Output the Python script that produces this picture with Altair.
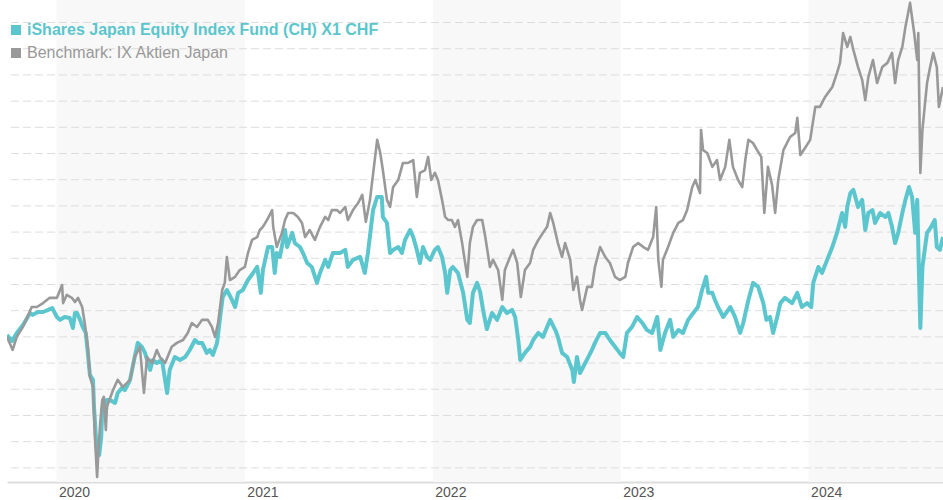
import altair as alt
import pandas as pd

# ---------------- data ----------------
fund_name = "iShares Japan Equity Index Fund (CH) X1 CHF"
bench_name = "Benchmark: IX Aktien Japan"

fund_dates = [
    "2019-09-27", "2019-10-07", "2019-10-16", "2019-10-28", "2019-11-11", "2019-11-16", "2019-11-26",
    "2019-12-06", "2019-12-16", "2019-12-24", "2020-01-02", "2020-01-08", "2020-01-17", "2020-01-27",
    "2020-02-02", "2020-02-06", "2020-02-10", "2020-02-16", "2020-02-21", "2020-02-27", "2020-03-02",
    "2020-03-06", "2020-03-12", "2020-03-14", "2020-03-18", "2020-03-20", "2020-03-24", "2020-03-28",
    "2020-03-30", "2020-04-02", "2020-04-06", "2020-04-08", "2020-04-14", "2020-04-24", "2020-04-29",
    "2020-05-09", "2020-05-13", "2020-05-23", "2020-06-01", "2020-06-07", "2020-06-15", "2020-06-21",
    "2020-07-01", "2020-07-06", "2020-07-14", "2020-07-24", "2020-08-03", "2020-08-08", "2020-08-18",
    "2020-08-28", "2020-09-07", "2020-09-16", "2020-09-26", "2020-10-02", "2020-10-10", "2020-10-19",
    "2020-10-25", "2020-10-31", "2020-11-08", "2020-11-14", "2020-11-19", "2020-11-27", "2020-12-07",
    "2020-12-13", "2020-12-19", "2020-12-28", "2021-01-07", "2021-01-17", "2021-01-25", "2021-02-01",
    "2021-02-05", "2021-02-15", "2021-02-23", "2021-02-28", "2021-03-04", "2021-03-10", "2021-03-20",
    "2021-03-24", "2021-04-03", "2021-04-08", "2021-04-18", "2021-04-24", "2021-05-02", "2021-05-11",
    "2021-05-21", "2021-05-27", "2021-06-06", "2021-06-12", "2021-06-21", "2021-07-05", "2021-07-15",
    "2021-07-20", "2021-07-30", "2021-08-13", "2021-08-22", "2021-08-28", "2021-09-07", "2021-09-15",
    "2021-09-24", "2021-09-26", "2021-10-04", "2021-10-10", "2021-10-16", "2021-10-26", "2021-11-02",
    "2021-11-08", "2021-11-18", "2021-11-24", "2021-12-01", "2021-12-07", "2021-12-13", "2021-12-21",
    "2021-12-27", "2022-01-05", "2022-01-11", "2022-01-19", "2022-01-25", "2022-01-29", "2022-02-04",
    "2022-02-09", "2022-02-19", "2022-03-01", "2022-03-09", "2022-03-14", "2022-03-20", "2022-03-28",
    "2022-04-03", "2022-04-09", "2022-04-16", "2022-04-26", "2022-05-06", "2022-05-16", "2022-05-25",
    "2022-06-04", "2022-06-10", "2022-06-16", "2022-06-20", "2022-06-29", "2022-07-09", "2022-07-15",
    "2022-07-25", "2022-08-03", "2022-08-11", "2022-08-17", "2022-08-27", "2022-09-01", "2022-09-09",
    "2022-09-19", "2022-09-29", "2022-10-02", "2022-10-08", "2022-10-14", "2022-10-20", "2022-10-30",
    "2022-11-06", "2022-11-12", "2022-11-22", "2022-12-02", "2022-12-11", "2022-12-21", "2022-12-30",
    "2023-01-06", "2023-01-13", "2023-01-23", "2023-02-02", "2023-02-12", "2023-02-21", "2023-03-03",
    "2023-03-13", "2023-03-19", "2023-03-28", "2023-04-07", "2023-04-13", "2023-04-23", "2023-05-02",
    "2023-05-12", "2023-05-22", "2023-05-31", "2023-06-08", "2023-06-16", "2023-06-20", "2023-06-28",
    "2023-07-03", "2023-07-09", "2023-07-19", "2023-08-02", "2023-08-11", "2023-08-21", "2023-08-27",
    "2023-09-06", "2023-09-15", "2023-09-25", "2023-10-05", "2023-10-11", "2023-10-18", "2023-10-24",
    "2023-11-01", "2023-11-07", "2023-11-16", "2023-11-30", "2023-12-10", "2023-12-19", "2023-12-29",
    "2024-01-06", "2024-01-10", "2024-01-20", "2024-01-27", "2024-02-06", "2024-02-16", "2024-02-25",
    "2024-03-06", "2024-03-12", "2024-03-16", "2024-03-22", "2024-03-28", "2024-04-06", "2024-04-14",
    "2024-04-20", "2024-04-26", "2024-05-04", "2024-05-09", "2024-05-19", "2024-05-29", "2024-06-04",
    "2024-06-11", "2024-06-17", "2024-06-23", "2024-07-01", "2024-07-07", "2024-07-14", "2024-07-20",
    "2024-07-26", "2024-07-30", "2024-08-02", "2024-08-05", "2024-08-09", "2024-08-18", "2024-08-26",
    "2024-09-02", "2024-09-06", "2024-09-12", "2024-09-18",
]
fund_values = [
    110.7, 108.4, 111.5, 114.5, 119.1, 118.4, 119.5,
    119.5, 120.3, 121.0, 117.6, 116.5, 117.6, 117.2,
    113.4, 119.1, 119.1, 116.5, 113.8, 111.5, 103.9,
    95.5, 93.6, 83.3, 70.7, 65.7, 64.9, 71.8,
    82.1, 85.9, 81.0, 85.9, 85.9, 84.8, 88.6,
    90.9, 89.7, 93.6, 102.3, 107.7, 106.2, 103.9,
    97.4, 101.2, 100.0, 101.2, 88.6, 97.4, 102.3,
    101.2, 102.3, 105.0, 108.8, 107.7, 107.7, 103.9,
    105.0, 103.1, 107.7, 117.6, 125.2, 127.9, 124.1,
    121.4, 126.8, 127.9, 131.7, 134.4, 136.7, 126.8,
    135.5, 144.3, 144.3, 134.4, 142.0, 140.5, 150.8,
    144.3, 149.7, 145.8, 144.3, 142.0, 138.2, 136.7,
    130.6, 134.4, 139.4, 136.7, 142.0, 142.0, 143.2,
    136.7, 139.4, 140.5, 134.4, 142.0, 158.4, 163.4,
    163.4, 155.8, 153.5, 142.0, 143.2, 144.3, 142.0,
    147.0, 150.8, 148.1, 143.2, 138.2, 144.3, 140.5,
    139.4, 143.2, 144.3, 140.5, 134.4, 126.8, 135.5,
    136.7, 134.4, 126.8, 116.5, 115.3, 126.8, 130.6,
    127.2, 119.9, 113.0, 119.1, 116.5, 121.4, 119.1,
    120.3, 117.6, 108.8, 101.2, 103.9, 106.2, 108.8,
    111.5, 110.0, 113.8, 116.5, 112.6, 110.0, 103.9,
    102.3, 97.4, 92.8, 102.3, 96.2, 98.5, 102.3,
    105.0, 107.7, 111.5, 111.5, 108.8, 106.2, 103.9,
    102.3, 111.5, 113.8, 117.6, 115.3, 112.6, 111.5,
    117.6, 105.0, 111.5, 116.5, 110.0, 112.6, 111.5,
    116.5, 119.1, 121.4, 127.9, 132.9, 126.8, 126.8,
    124.1, 121.4, 117.6, 121.4, 117.6, 111.5, 115.3,
    124.1, 130.6, 129.1, 122.9, 116.5, 117.6, 111.5,
    117.6, 122.9, 124.9, 122.9, 126.8, 121.4, 122.9,
    121.4, 130.6, 136.7, 134.4, 139.4, 144.3, 149.7,
    157.3, 152.0, 159.6, 164.9, 166.1, 159.6, 162.3,
    150.8, 157.3, 158.4, 153.5, 157.3, 155.8, 157.3,
    152.0, 145.8, 149.7, 157.3, 162.3, 167.2, 163.4,
    149.7, 162.3, 136.7, 113.4, 136.7, 149.7, 152.0,
    154.6, 144.3, 143.2, 148.1,
]

bench_dates = [
    "2019-09-27", "2019-10-08", "2019-10-16", "2019-10-28", "2019-11-14", "2019-11-24", "2019-12-06",
    "2019-12-19", "2020-01-02", "2020-01-12", "2020-01-14", "2020-01-21", "2020-01-31", "2020-02-06",
    "2020-02-12", "2020-02-20", "2020-02-25", "2020-03-02", "2020-03-06", "2020-03-12", "2020-03-16",
    "2020-03-20", "2020-03-23", "2020-03-26", "2020-03-30", "2020-04-02", "2020-04-06", "2020-04-08",
    "2020-04-20", "2020-04-29", "2020-05-09", "2020-05-23", "2020-06-01", "2020-06-11", "2020-06-19",
    "2020-06-25", "2020-07-05", "2020-07-14", "2020-07-20", "2020-07-30", "2020-08-12", "2020-08-22",
    "2020-09-03", "2020-09-12", "2020-09-20", "2020-09-30", "2020-10-10", "2020-10-21", "2020-10-29",
    "2020-11-04", "2020-11-10", "2020-11-18", "2020-11-23", "2020-11-27", "2020-12-03", "2020-12-13",
    "2020-12-22", "2021-01-01", "2021-01-07", "2021-01-15", "2021-01-25", "2021-01-30", "2021-02-05",
    "2021-02-13", "2021-02-23", "2021-02-25", "2021-03-04", "2021-03-14", "2021-03-20", "2021-03-26",
    "2021-04-05", "2021-04-14", "2021-04-22", "2021-04-28", "2021-05-07", "2021-05-17", "2021-05-27",
    "2021-06-06", "2021-06-12", "2021-06-19", "2021-06-29", "2021-07-05", "2021-07-15", "2021-07-20",
    "2021-07-30", "2021-08-09", "2021-08-17", "2021-08-24", "2021-09-01", "2021-09-11", "2021-09-15",
    "2021-09-21", "2021-09-26", "2021-10-04", "2021-10-10", "2021-10-16", "2021-10-26", "2021-11-04",
    "2021-11-14", "2021-11-24", "2021-12-01", "2021-12-07", "2021-12-17", "2021-12-23", "2021-12-29",
    "2022-01-05", "2022-01-11", "2022-01-19", "2022-01-25", "2022-01-31", "2022-02-07", "2022-02-13",
    "2022-02-19", "2022-02-27", "2022-03-09", "2022-03-14", "2022-03-20", "2022-03-28", "2022-04-07",
    "2022-04-13", "2022-04-22", "2022-04-28", "2022-05-08", "2022-05-16", "2022-05-21", "2022-05-31",
    "2022-06-06", "2022-06-14", "2022-06-21", "2022-06-29", "2022-07-09", "2022-07-15", "2022-07-25",
    "2022-08-03", "2022-08-11", "2022-08-17", "2022-08-23", "2022-09-01", "2022-09-09", "2022-09-15",
    "2022-09-25", "2022-10-01", "2022-10-08", "2022-10-14", "2022-10-18", "2022-10-28", "2022-11-06",
    "2022-11-12", "2022-11-22", "2022-12-02", "2022-12-11", "2022-12-21", "2022-12-30", "2023-01-10",
    "2023-01-15", "2023-01-25", "2023-02-04", "2023-02-14", "2023-02-23", "2023-03-05", "2023-03-11",
    "2023-03-15", "2023-03-21", "2023-03-24", "2023-04-03", "2023-04-13", "2023-04-23", "2023-05-02",
    "2023-05-10", "2023-05-20", "2023-05-26", "2023-06-04", "2023-06-06", "2023-06-10", "2023-06-18",
    "2023-06-28", "2023-07-07", "2023-07-13", "2023-07-23", "2023-07-31", "2023-08-07", "2023-08-17",
    "2023-08-25", "2023-08-31", "2023-09-06", "2023-09-15", "2023-09-23", "2023-10-01", "2023-10-07",
    "2023-10-14", "2023-10-22", "2023-10-28", "2023-11-03", "2023-11-13", "2023-11-26", "2023-12-06",
    "2023-12-10", "2023-12-16", "2023-12-25", "2024-01-04", "2024-01-14", "2024-01-23", "2024-02-02",
    "2024-02-16", "2024-02-25", "2024-03-02", "2024-03-08", "2024-03-16", "2024-03-22", "2024-03-28",
    "2024-04-06", "2024-04-14", "2024-04-20", "2024-04-26", "2024-05-05", "2024-05-13", "2024-05-23",
    "2024-06-02", "2024-06-11", "2024-06-17", "2024-06-23", "2024-07-01", "2024-07-07", "2024-07-16",
    "2024-07-24", "2024-07-30", "2024-08-01", "2024-08-05", "2024-08-09", "2024-08-18", "2024-08-24",
    "2024-08-30", "2024-09-06", "2024-09-10", "2024-09-18",
]
bench_values = [
    110.0, 105.0, 110.0, 113.8, 121.4, 121.4, 122.9,
    124.9, 124.9, 129.8, 122.9, 126.0, 124.9, 123.3,
    124.9, 121.4, 115.3, 106.2, 94.7, 90.9, 70.7,
    56.5, 68.0, 77.1, 85.9, 87.1, 74.5, 83.3,
    89.7, 93.6, 90.9, 93.6, 102.3, 106.2, 88.6,
    102.3, 100.0, 105.0, 102.3, 100.0, 106.2, 107.7,
    108.8, 111.5, 115.3, 113.8, 116.5, 116.5, 113.8,
    110.0, 115.3, 127.9, 130.6, 140.5, 131.7, 132.9,
    135.5, 136.7, 142.0, 147.0, 148.1, 150.8, 152.0,
    154.6, 158.4, 152.0, 144.3, 149.7, 154.6, 157.3,
    157.3, 155.8, 153.5, 148.1, 150.8, 147.0, 152.0,
    155.8, 154.6, 158.4, 158.4, 157.3, 159.6, 154.6,
    158.4, 161.1, 164.2, 153.9, 162.3, 178.7, 185.2,
    180.2, 173.7, 162.3, 159.6, 167.2, 169.9, 176.4,
    176.4, 177.5, 163.4, 172.6, 173.7, 178.7, 169.9,
    172.6, 169.9, 162.3, 155.8, 154.6, 154.6, 152.0,
    154.6, 145.8, 132.9, 145.8, 152.0, 154.6, 154.6,
    148.1, 136.7, 139.4, 135.5, 124.1, 135.5, 140.5,
    143.2, 138.2, 125.2, 135.5, 138.2, 143.2, 147.0,
    149.7, 152.0, 157.3, 153.5, 145.8, 140.5, 145.8,
    139.4, 127.9, 132.9, 124.1, 120.3, 129.1, 129.1,
    136.7, 144.3, 140.5, 138.2, 132.9, 131.7, 132.9,
    138.2, 144.3, 145.8, 144.3, 143.2, 148.1, 159.6,
    139.4, 129.1, 139.4, 144.3, 149.7, 153.5, 154.6,
    158.4, 167.2, 169.9, 164.9, 189.0, 181.3, 180.2,
    174.9, 177.5, 169.9, 174.9, 185.2, 174.9, 169.9,
    167.2, 177.5, 185.2, 184.0, 181.3, 178.7, 157.3,
    174.9, 168.0, 157.3, 169.9, 181.3, 186.3, 187.8,
    193.6, 179.4, 182.1, 185.2, 197.8, 197.8, 201.6,
    205.4, 210.7, 214.6, 226.0, 220.7, 224.5, 219.5,
    213.0, 208.1, 200.4, 209.2, 215.7, 206.9, 213.0,
    214.6, 218.4, 206.9, 215.7, 220.7, 228.3, 237.5,
    226.0, 215.7, 226.0, 172.6, 189.0, 206.9, 213.0,
    218.4, 213.0, 197.8, 205.4,
]

year_labels = [2020, 2021, 2022, 2023, 2024]
shaded_years = [2020, 2022, 2024]
grid_values = [60, 70, 80, 90, 100, 110, 120, 130, 140, 150, 160, 170, 180, 190, 200, 210, 220, 230]

# ---------------- tables ----------------
fund_df = pd.DataFrame({"date": fund_dates, "value": fund_values})
bench_df = pd.DataFrame({"date": bench_dates, "value": bench_values})
bands_df = pd.DataFrame({
    "start": [f"{y}-01-01" for y in shaded_years],
    "end": [f"{y + 1}-01-01" for y in shaded_years],
})
grid_df = pd.DataFrame({"v": grid_values})

# ---------------- style ----------------
TEAL = "#5bc6cd"
GREY = "#999999"
W, H = 936, 482

x_scale = alt.Scale(
    type="utc",
    domain=[alt.DateTime(year=2019, month=9, date=27, utc=True),
            alt.DateTime(year=2024, month=9, date=18, utc=True)],
)
y_scale = alt.Scale(domain=[54.6, 238.6], zero=False, nice=False)

x_axis = alt.Axis(
    values=[alt.DateTime(year=y, month=1, date=1, utc=True) for y in year_labels],
    labelExpr="utcFormat(datum.value, '%Y')",
    title=None, grid=False, ticks=False,
    domainColor="#dddddd", domainWidth=2,
    labelAlign="left", labelBaseline="top", labelOffset=2, labelPadding=3,
    labelFont="Liberation Sans", labelFontSize=14, labelColor="#555555",
)

bands = alt.Chart(bands_df).mark_rect(color="#f8f8f8", clip=True).encode(
    x=alt.X("start:T", scale=x_scale, axis=x_axis),
    x2="end:T",
)

grid = alt.Chart(grid_df).mark_rule(
    color="#dddddd", strokeWidth=1, strokeDash=[8, 4]
).encode(y=alt.Y("v:Q", scale=y_scale, axis=None))

fund_line = alt.Chart(fund_df).mark_line(
    color=TEAL, strokeWidth=4, strokeJoin="round", clip=True
).encode(
    x=alt.X("date:T", scale=x_scale, axis=x_axis),
    y=alt.Y("value:Q", scale=y_scale, axis=None),
)

bench_line = alt.Chart(bench_df).mark_line(
    color=GREY, strokeWidth=2.6, strokeJoin="round", clip=True
).encode(
    x=alt.X("date:T", scale=x_scale, axis=x_axis),
    y=alt.Y("value:Q", scale=y_scale, axis=None),
)

leg_fund_sq = alt.Chart(pd.DataFrame({"t": [fund_name]})).mark_square(
    size=100, color=TEAL, opacity=1, filled=True
).encode(x=alt.value(9), y=alt.value(30))
leg_fund_tx = alt.Chart(pd.DataFrame({"t": [fund_name]})).mark_text(
    align="left", baseline="alphabetic", font="Liberation Sans",
    fontSize=16, fontWeight="bold", color=TEAL
).encode(text="t:N", x=alt.value(20), y=alt.value(35))

leg_bench_sq = alt.Chart(pd.DataFrame({"t": [bench_name]})).mark_square(
    size=100, color=GREY, opacity=1, filled=True
).encode(x=alt.value(9), y=alt.value(53))
leg_bench_tx = alt.Chart(pd.DataFrame({"t": [bench_name]})).mark_text(
    align="left", baseline="alphabetic", font="Liberation Sans",
    fontSize=16, color=GREY
).encode(text="t:N", x=alt.value(20), y=alt.value(58))

chart = alt.layer(
    bands, grid, fund_line, bench_line,
    leg_fund_sq, leg_fund_tx, leg_bench_sq, leg_bench_tx,
).properties(
    width=W, height=H,
    autosize=alt.AutoSizeParams(type="none"),
    padding={"left": 7, "top": 0, "right": 0, "bottom": 18},
    background="white",
).configure_view(stroke=None)

chart.save("out.html", embed_options={"renderer": "svg", "actions": False})
